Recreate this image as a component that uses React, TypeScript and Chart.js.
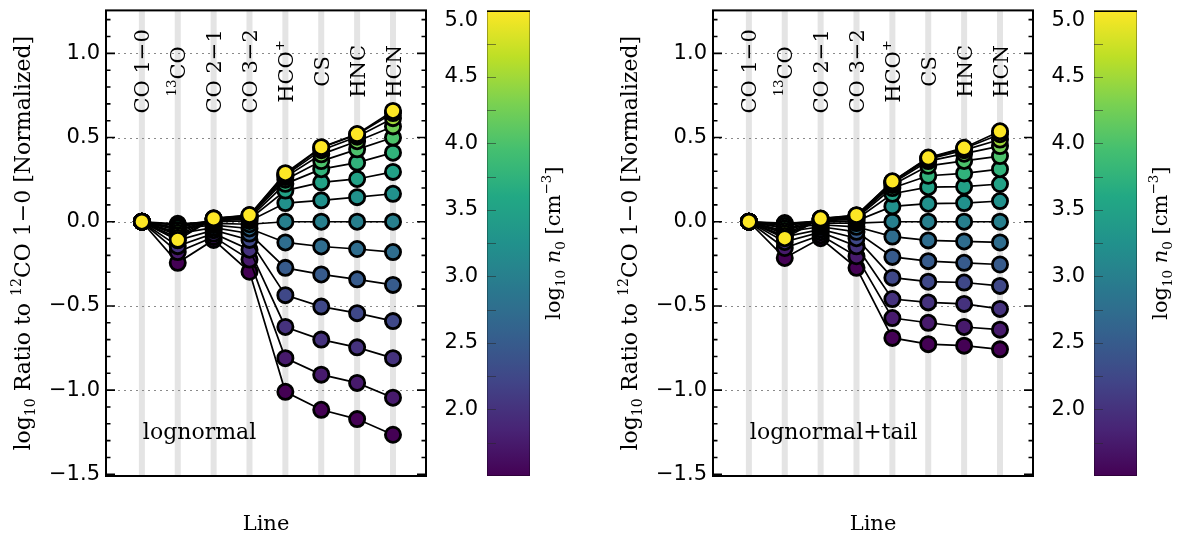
import React, { useEffect, useRef } from "react";
import { Chart, registerables } from "chart.js";

Chart.register(...registerables);

// ---------- categories / ticks ----------
const LINE_NAMES = ["CO 1−0", "13CO", "CO 2−1", "CO 3−2", "HCO+", "CS", "HNC", "HCN"];
// rich-text parts of each name: [superscript prefix, main text, superscript suffix]
const LINE_PARTS: [string, string, string][] = [
  ["", "CO 1−0", ""],
  ["13", "CO", ""],
  ["", "CO 2−1", ""],
  ["", "CO 3−2", ""],
  ["", "HCO", "+"],
  ["", "CS", ""],
  ["", "HNC", ""],
  ["", "HCN", ""],
];

const LOG_N0 = [1.5, 1.75, 2.0, 2.25, 2.5, 2.75, 3.0, 3.25, 3.5, 3.75, 4.0, 4.25, 4.5, 4.75, 5.0];
const Y_TICKS = [-1.5, -1.0, -0.5, 0.0, 0.5, 1.0];
const CB_TICKS = [2.0, 2.5, 3.0, 3.5, 4.0, 4.5, 5.0];
const CB_MIN = 1.5;
const CB_MAX = 5.0;

// ---------- lognormal panel (values per line, ordered by LOG_N0) ----------
const LN_CO10 = [0, 0, 0, 0, 0, 0, 0, 0, 0, 0, 0, 0, 0, 0, 0];
const LN_13CO = [-0.244, -0.18, -0.145, -0.11, -0.07, -0.04, -0.02, -0.012, -0.02, -0.035, -0.05, -0.065, -0.08, -0.095, -0.108];
const LN_CO21 = [-0.108, -0.09, -0.07, -0.05, -0.035, -0.02, -0.01, 0.0, 0.005, 0.01, 0.013, 0.016, 0.018, 0.019, 0.02];
const LN_CO32 = [-0.297, -0.225, -0.166, -0.108, -0.07, -0.04, -0.015, 0.005, 0.015, 0.022, 0.028, 0.032, 0.035, 0.038, 0.04];
const LN_HCOP = [-1.01, -0.81, -0.625, -0.436, -0.274, -0.123, 0.0, 0.111, 0.185, 0.225, 0.25, 0.265, 0.275, 0.282, 0.288];
const LN_CS = [-1.117, -0.908, -0.7, -0.504, -0.313, -0.147, 0.0, 0.127, 0.234, 0.312, 0.36, 0.4, 0.425, 0.44, 0.443];
const LN_HNC = [-1.172, -0.957, -0.746, -0.543, -0.342, -0.162, 0.0, 0.146, 0.254, 0.351, 0.43, 0.478, 0.505, 0.518, 0.521];
const LN_HCN = [-1.265, -1.045, -0.81, -0.59, -0.375, -0.18, 0.0, 0.166, 0.296, 0.41, 0.5, 0.566, 0.615, 0.645, 0.658];

// ---------- lognormal+tail panel ----------
const LT_CO10 = [0, 0, 0, 0, 0, 0, 0, 0, 0, 0, 0, 0, 0, 0, 0];
const LT_13CO = [-0.215, -0.156, -0.12, -0.09, -0.06, -0.035, -0.015, -0.008, -0.012, -0.025, -0.04, -0.055, -0.07, -0.085, -0.098];
const LT_CO21 = [-0.098, -0.08, -0.062, -0.045, -0.03, -0.018, -0.008, 0.0, 0.005, 0.009, 0.012, 0.014, 0.016, 0.018, 0.019];
const LT_CO32 = [-0.274, -0.205, -0.146, -0.098, -0.06, -0.03, -0.008, 0.005, 0.015, 0.022, 0.028, 0.032, 0.035, 0.037, 0.039];
const LT_HCOP = [-0.69, -0.572, -0.459, -0.332, -0.209, -0.088, 0.0, 0.091, 0.166, 0.2, 0.218, 0.228, 0.234, 0.238, 0.24];
const LT_CS = [-0.727, -0.6, -0.479, -0.356, -0.234, -0.111, 0.0, 0.107, 0.205, 0.273, 0.332, 0.36, 0.372, 0.378, 0.381];
const LT_HNC = [-0.736, -0.625, -0.488, -0.361, -0.244, -0.117, 0.0, 0.111, 0.209, 0.287, 0.361, 0.404, 0.425, 0.435, 0.439];
const LT_HCN = [-0.758, -0.641, -0.518, -0.381, -0.254, -0.123, 0.0, 0.123, 0.224, 0.312, 0.39, 0.449, 0.488, 0.52, 0.537];

const LN_ROWS = [LN_CO10, LN_13CO, LN_CO21, LN_CO32, LN_HCOP, LN_CS, LN_HNC, LN_HCN];
const LT_ROWS = [LT_CO10, LT_13CO, LT_CO21, LT_CO32, LT_HCOP, LT_CS, LT_HNC, LT_HCN];

// ---------- colour map ----------
const VIRIDIS = ["#440154", "#482475", "#414487", "#355f8d", "#2a788e", "#21918c", "#22a884", "#44bf70", "#7ad151", "#bddf26", "#fde725"];
function hexToRgb(h: string) {
  return [parseInt(h.slice(1, 3), 16), parseInt(h.slice(3, 5), 16), parseInt(h.slice(5, 7), 16)];
}
function viridis(t: number) {
  const c = Math.max(0, Math.min(1, t)) * (VIRIDIS.length - 1);
  const i = Math.min(VIRIDIS.length - 2, Math.floor(c));
  const f = c - i;
  const a = hexToRgb(VIRIDIS[i]);
  const b = hexToRgb(VIRIDIS[i + 1]);
  const m = a.map((v, k) => Math.round(v + (b[k] - v) * f));
  return `rgb(${m[0]},${m[1]},${m[2]})`;
}

const SERIF = "'DejaVu Serif', serif";
const SANS = "'DejaVu Sans', sans-serif";

type Seg = { t: string; k?: "sub" | "sup" | "it" };

function drawRich(ctx: CanvasRenderingContext2D, segs: Seg[], x: number, y: number, size: number, rot: number, align: "center" | "left") {
  ctx.save();
  ctx.translate(x, y);
  ctx.rotate(rot);
  const fontFor = (k?: string) => {
    const s = k === "sub" || k === "sup" ? size * 0.64 : size;
    return `${k === "it" ? "italic " : ""}${s}px ${SERIF}`;
  };
  let w = 0;
  for (const s of segs) {
    ctx.font = fontFor(s.k);
    w += ctx.measureText(s.t).width;
  }
  let cx = align === "center" ? -w / 2 : 0;
  ctx.textAlign = "left";
  ctx.textBaseline = "alphabetic";
  ctx.fillStyle = "#000";
  for (const s of segs) {
    ctx.font = fontFor(s.k);
    const dy = s.k === "sup" ? -size * 0.42 : s.k === "sub" ? size * 0.24 : 0;
    ctx.fillText(s.t, cx, dy);
    cx += ctx.measureText(s.t).width;
  }
  ctx.restore();
}

function fmt(v: number) {
  return (v < 0 ? "−" : "") + Math.abs(v).toFixed(1);
}

function decorPlugin(label: string) {
  return {
    id: "decor",
    beforeDatasetsDraw(chart: any) {
      const { ctx, chartArea: a, scales } = chart;
      const xs = scales.x;
      const ys = scales.y;
      ctx.save();
      ctx.fillStyle = "#e4e4e4";
      LINE_NAMES.forEach((_, i) => {
        const px = xs.getPixelForValue(i);
        ctx.fillRect(px - 3, a.top, 6, a.bottom - a.top);
      });
      ctx.strokeStyle = "#8a8a8a";
      ctx.lineWidth = 1;
      ctx.setLineDash([2, 4]);
      Y_TICKS.forEach((v) => {
        const py = Math.round(ys.getPixelForValue(v)) + 0.5;
        if (py < a.top + 3 || py > a.bottom - 3) return;
        ctx.beginPath();
        ctx.moveTo(a.left, py);
        ctx.lineTo(a.right, py);
        ctx.stroke();
      });
      ctx.restore();
    },
    afterDatasetsDraw(chart: any) {
      const { ctx, chartArea: a, scales } = chart;
      const xs = scales.x;
      const ys = scales.y;
      const cb = scales.cb;
      ctx.save();
      // frame
      ctx.strokeStyle = "#000";
      ctx.lineWidth = 2;
      ctx.strokeRect(a.left, a.top, a.right - a.left, a.bottom - a.top);
      // inward y ticks on both sides
      ctx.lineWidth = 1.6;
      for (let i = -15; i <= 12; i++) {
        const py = ys.getPixelForValue(i / 10);
        const len = i % 5 === 0 ? 9 : 4.5;
        ctx.beginPath();
        ctx.moveTo(a.left, py);
        ctx.lineTo(a.left + len, py);
        ctx.moveTo(a.right, py);
        ctx.lineTo(a.right - len, py);
        ctx.stroke();
      }
      // line names inside the top of the plot
      const labSize = 21;
      const cy = a.top + 61;
      LINE_PARTS.forEach((p, i) => {
        const px = xs.getPixelForValue(i);
        const segs: Seg[] = [];
        if (p[0]) segs.push({ t: p[0], k: "sup" });
        segs.push({ t: p[1] });
        if (p[2]) segs.push({ t: p[2], k: "sup" });
        drawRich(ctx, segs, px + labSize * 0.36, cy, labSize, -Math.PI / 2, "center");
      });
      // panel label
      drawRich(ctx, [{ t: label }], xs.getPixelForValue(0) + 1, ys.getPixelForValue(-1.29), 22, 0, "left");
      // x title
      drawRich(ctx, [{ t: "Line" }], (a.left + a.right) / 2, a.bottom + 54, 21, 0, "center");
      // y title
      drawRich(
        ctx,
        [{ t: "log" }, { t: "10", k: "sub" }, { t: " Ratio to " }, { t: "12", k: "sup" }, { t: "CO 1−0 [Normalized]" }],
        30,
        (a.top + a.bottom) / 2,
        22,
        -Math.PI / 2,
        "center"
      );
      // colour bar
      const barL = a.right + 61;
      const barW = 43;
      const top = cb.getPixelForValue(CB_MAX);
      const bot = cb.getPixelForValue(CB_MIN);
      const g = ctx.createLinearGradient(0, bot, 0, top);
      for (let k = 0; k <= 20; k++) g.addColorStop(k / 20, viridis(k / 20));
      ctx.fillStyle = g;
      ctx.fillRect(barL, top, barW, bot - top);
      ctx.strokeStyle = "rgba(0,0,0,0.3)";
      ctx.lineWidth = 1;
      ctx.strokeRect(barL + 0.5, top + 0.5, barW - 1, bot - top - 1);
      ctx.strokeStyle = "#000";
      ctx.lineWidth = 1.5;
      ctx.beginPath();
      ctx.moveTo(barL, top + 0.75);
      ctx.lineTo(barL + barW, top + 0.75);
      ctx.stroke();
      ctx.strokeStyle = "rgba(40,40,40,0.55)";
      ctx.lineWidth = 1;
      for (let v = CB_MIN + 0.25; v < CB_MAX - 0.01; v += 0.25) {
        const py = Math.round(cb.getPixelForValue(v)) + 0.5;
        ctx.beginPath();
        ctx.moveTo(barL, py);
        ctx.lineTo(barL + 9, py);
        ctx.stroke();
      }
      ctx.fillStyle = "#000";
      ctx.font = `21px ${SANS}`;
      ctx.textAlign = "right";
      ctx.textBaseline = "middle";
      CB_TICKS.forEach((v) => {
        const py = Math.max(cb.getPixelForValue(v), top + 10);
        ctx.fillText(fmt(v), barL - 9, py);
      });
      drawRich(
        ctx,
        [{ t: "log" }, { t: "10", k: "sub" }, { t: " " }, { t: "n", k: "it" }, { t: "0", k: "sub" }, { t: " [cm" }, { t: "−3", k: "sup" }, { t: "]" }],
        barL + barW + 30,
        (top + bot) / 2,
        21,
        -Math.PI / 2,
        "center"
      );
      ctx.restore();
    },
  };
}

function Panel({ rows, label, left }: { rows: number[][]; label: string; left: number }) {
  const ref = useRef<HTMLCanvasElement>(null);
  useEffect(() => {
    const canvas = ref.current!;
    const datasets: any[] = [];
    for (let k = LOG_N0.length - 1; k >= 0; k--) {
      const col = viridis((LOG_N0[k] - CB_MIN) / (CB_MAX - CB_MIN));
      datasets.push({
        label: `log n0 = ${LOG_N0[k]}`,
        data: rows.map((r, i) => ({ x: i, y: r[k] })),
        xAxisID: "x",
        yAxisID: "y",
        showLine: true,
        tension: 0,
        borderColor: "#000",
        borderWidth: 1.7,
        backgroundColor: col,
        pointBackgroundColor: col,
        pointBorderColor: "#000",
        pointBorderWidth: 2.8,
        pointRadius: 7.6,
        pointHoverRadius: 7.6,
      });
    }
    const chart = new Chart(canvas, {
      type: "scatter",
      data: { datasets },
      options: {
        animation: false,
        responsive: false,
        devicePixelRatio: 1,
        events: [],
        layout: { padding: { left: 0, right: 151, top: 4, bottom: 66 } },
        plugins: { legend: { display: false }, tooltip: { enabled: false } },
        scales: {
          x: { type: "linear", min: -1, max: 7.92, display: false },
          y: {
            type: "linear",
            position: "left",
            min: -1.51,
            max: 1.255,
            grid: { display: false, drawTicks: false },
            border: { display: false },
            afterBuildTicks: (s: any) => {
              s.ticks = Y_TICKS.map((v) => ({ value: v }));
            },
            afterFit: (s: any) => {
              s.width = 106;
              s.paddingTop = 0;
              s.paddingBottom = 0;
            },
            ticks: {
              padding: 6,
              color: "#000",
              font: { family: "'DejaVu Sans', sans-serif", size: 21 },
              callback: (v: any) => fmt(Number(v)),
            },
          },
          cb: { type: "linear", position: "right", min: CB_MIN, max: CB_MAX, display: false },
        },
      } as any,
      plugins: [decorPlugin(label)],
    });
    return () => chart.destroy();
  }, []);
  return <canvas ref={ref} width={577} height={542} style={{ position: "absolute", left, top: 0, width: 577, height: 542 }} />;
}

export default function App() {
  return (
    <div style={{ position: "absolute", left: 0, top: 0, width: 1184, height: 542, background: "#fff", overflow: "hidden" }}>
      <Panel rows={LN_ROWS} label="lognormal" left={0} />
      <Panel rows={LT_ROWS} label="lognormal+tail" left={607} />
    </div>
  );
}
